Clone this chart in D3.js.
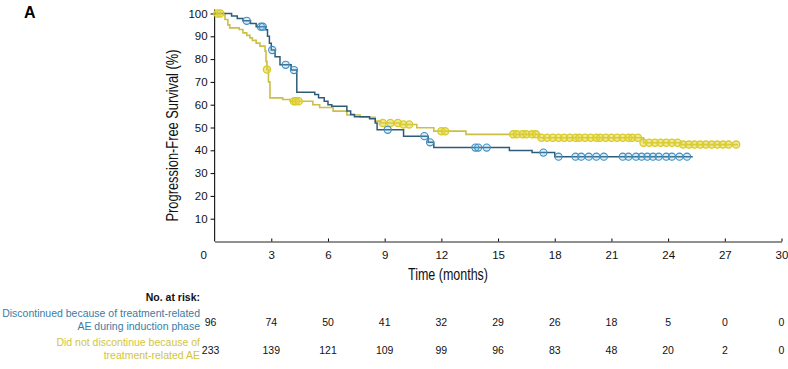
<!DOCTYPE html>
<html><head><meta charset="utf-8">
<script src="https://cdn.jsdelivr.net/npm/d3@7"></script>
<style>
body{margin:0;background:#fff;}
svg{display:block;}
text{font-family:"Liberation Sans","Arial",sans-serif;}
</style></head>
<body><svg id="c" width="788" height="369"></svg>
<script>
// ---- data ----
const xTicks = [0,3,6,9,12,15,18,21,24,27,30];
const yTicks = [10,20,30,40,50,60,70,80,90,100];

// Discontinued because of treatment-related AE (blue) : step times / survival after step
const blueT = [0,0.9,1.2,1.5,1.9,2.2,2.7,2.8,2.9,3.0,3.2,3.46,4.05,4.35,5.3,5.5,5.8,6.0,6.2,7.0,7.2,7.4,8.2,8.5,8.6,10.0,11.3,11.6,15.6,16.8,18.0,25.3];
const blueS = [100,98.9,97.8,96.8,95.6,94.2,92.9,90,87,84,81,77.5,75.2,65.5,64.5,63,61.5,60,59.3,57.2,55.7,54.7,53.8,52,49,46.2,43.5,41.2,39.9,39.0,37.2,37.2];
const blueCensor = [1.7,2.45,2.55,3.05,3.76,4.2,9.16,11.1,11.4,13.8,13.95,14.4,17.4,18.2,19.1,19.4,19.8,20.2,20.6,21.6,21.9,22.3,22.6,22.9,23.2,23.5,23.9,24.2,24.6,25.0];

// Did not discontinue (yellow)
const yelT = [0,0.55,0.7,0.8,1.3,1.5,1.7,1.87,2.0,2.2,2.4,2.67,2.72,2.77,2.85,2.93,3.6,4.0,5.2,5.56,6.27,7.0,7.7,8.5,8.8,9.8,10.7,11.6,13.3,17.2,22.7,24.7,27.7];
const yelS = [100,97.4,95,93.7,93,91.5,90.4,89.3,88.2,87,85.7,83.5,79,75.4,70,63,62.3,61.5,60,58.8,57.2,55.5,54.5,52.8,52,51.3,49.9,48.4,47,45.5,43.3,42.5,42.5];
const yelCensor = [0.15,0.3,2.77,4.2,4.3,4.45,8.9,9.3,9.7,10.0,10.3,12.0,12.2,15.8,16.0,16.3,16.5,16.8,17.0,17.3,17.6,17.9,18.2,18.5,18.8,19.1,19.3,19.6,19.9,20.2,20.4,20.7,21.0,21.3,21.6,21.9,22.1,22.4,22.7,23.0,23.3,23.6,23.9,24.2,24.5,24.8,25.1,25.4,25.7,26.0,26.3,26.6,26.9,27.2,27.6];

const riskBlue = [96,74,50,41,32,29,26,18,5,0,0];
const riskYel = [233,139,121,109,99,96,83,48,20,2,0];

const blueLabel = ["Discontinued because of treatment-related","AE during induction phase"];
const yelLabel = ["Did not discontinue because of","treatment-related AE"];

// ---- layout ----
const svg = d3.select("#c");
const x = d3.scaleLinear().domain([0,30]).range([214.6,781.5]);
const y = d3.scaleLinear().domain([0,100]).range([241.5,13.5]);

const cBlueLine = "#2c5c77", cBlueC = "#3b8fc4";
const cYelLine = "#cbbf45", cYelC = "#d9cc2a";

svg.append("text").attr("x",24).attr("y",18).attr("font-size",16).attr("font-weight","bold").text("A");

// axes
const xAxis = svg.append("g").attr("transform",`translate(0,${y(0)})`)
  .call(d3.axisBottom(x).tickValues(xTicks).tickSize(3).tickSizeOuter(0).tickFormat(d=>d===0?"":d));
xAxis.selectAll(".tick line").attr("y1",-3).attr("y2",0);
xAxis.select(".domain").attr("stroke","#222").attr("stroke-width",1.2);
xAxis.selectAll("text").attr("font-size",11.5).attr("dy","0").attr("y",17).attr("fill","#111");
xAxis.selectAll(".tick").filter(d=>d===0).select("line").remove();
svg.append("text").attr("x",x(0)-11).attr("y",y(0)+17).attr("text-anchor","middle").attr("font-size",11.5).attr("fill","#111").text("0");

const yAxis = svg.append("g").attr("transform",`translate(${x(0)},0)`)
  .call(d3.axisLeft(y).tickValues(yTicks).tickSize(4).tickSizeOuter(0));
yAxis.select(".domain").attr("stroke","#222").attr("stroke-width",1.2).attr("d",`M0,${y(100)-4}V${y(0)}`);
yAxis.selectAll("text").attr("font-size",11.5).attr("fill","#111");

svg.append("text").attr("transform",`translate(178,${(y(0)+y(100))/2+8}) rotate(-90)`)
  .attr("text-anchor","middle").attr("font-size",16).attr("textLength",172).attr("lengthAdjust","spacingAndGlyphs").attr("fill","#111")
  .text("Progression-Free Survival (%)");
svg.append("text").attr("x",448).attr("y",280).attr("text-anchor","middle").attr("font-size",16)
  .attr("textLength",80).attr("lengthAdjust","spacingAndGlyphs").attr("fill","#111").text("Time (months)");

// curves
const step = d3.line().x(d=>x(d[0])).y(d=>y(d[1])).curve(d3.curveStepAfter);
function lookup(T,S,t){let v=S[0];for(let i=0;i<T.length;i++){if(T[i]<=t)v=S[i];}return v;}

svg.append("path").datum(yelT.map((t,i)=>[t,yelS[i]])).attr("d",step)
  .attr("fill","none").attr("stroke",cYelLine).attr("stroke-width",1.6);
svg.append("path").datum(blueT.map((t,i)=>[t,blueS[i]])).attr("d",step)
  .attr("fill","none").attr("stroke",cBlueLine).attr("stroke-width",1.5);

svg.append("g").selectAll("circle").data(yelCensor).join("circle")
  .attr("cx",d=>x(d)).attr("cy",d=>y(lookup(yelT,yelS,d)))
  .attr("r",3.6).attr("fill","rgba(225,214,60,0.55)").attr("stroke",cYelC).attr("stroke-width",1.3);
svg.append("g").selectAll("circle").data(blueCensor).join("circle")
  .attr("cx",d=>x(d)).attr("cy",d=>y(lookup(blueT,blueS,d)))
  .attr("r",3.6).attr("fill","rgba(120,185,225,0.25)").attr("stroke",cBlueC).attr("stroke-width",1.1);

// risk table
svg.append("text").attr("x",200).attr("y",301).attr("text-anchor","end").attr("font-size",10.5).attr("font-weight","bold").attr("fill","#111").text("No. at risk:");
blueLabel.forEach((s,i)=>svg.append("text").attr("x",200).attr("y",317+i*13).attr("text-anchor","end").attr("font-size",10.5).attr("fill","#3a7ca6").text(s));
yelLabel.forEach((s,i)=>svg.append("text").attr("x",200).attr("y",346+i*13).attr("text-anchor","end").attr("font-size",10.5).attr("fill","#d2c53c").text(s));
svg.append("g").selectAll("text").data(riskBlue).join("text")
  .attr("x",(d,i)=>i===0?x(0)-4:x(xTicks[i])).attr("y",326).attr("text-anchor","middle").attr("font-size",10.5).attr("fill","#111").text(d=>d);
svg.append("g").selectAll("text").data(riskYel).join("text")
  .attr("x",(d,i)=>i===0?x(0)-4:x(xTicks[i])).attr("y",354).attr("text-anchor","middle").attr("font-size",10.5).attr("fill","#111").text(d=>d);
</script></body></html>
